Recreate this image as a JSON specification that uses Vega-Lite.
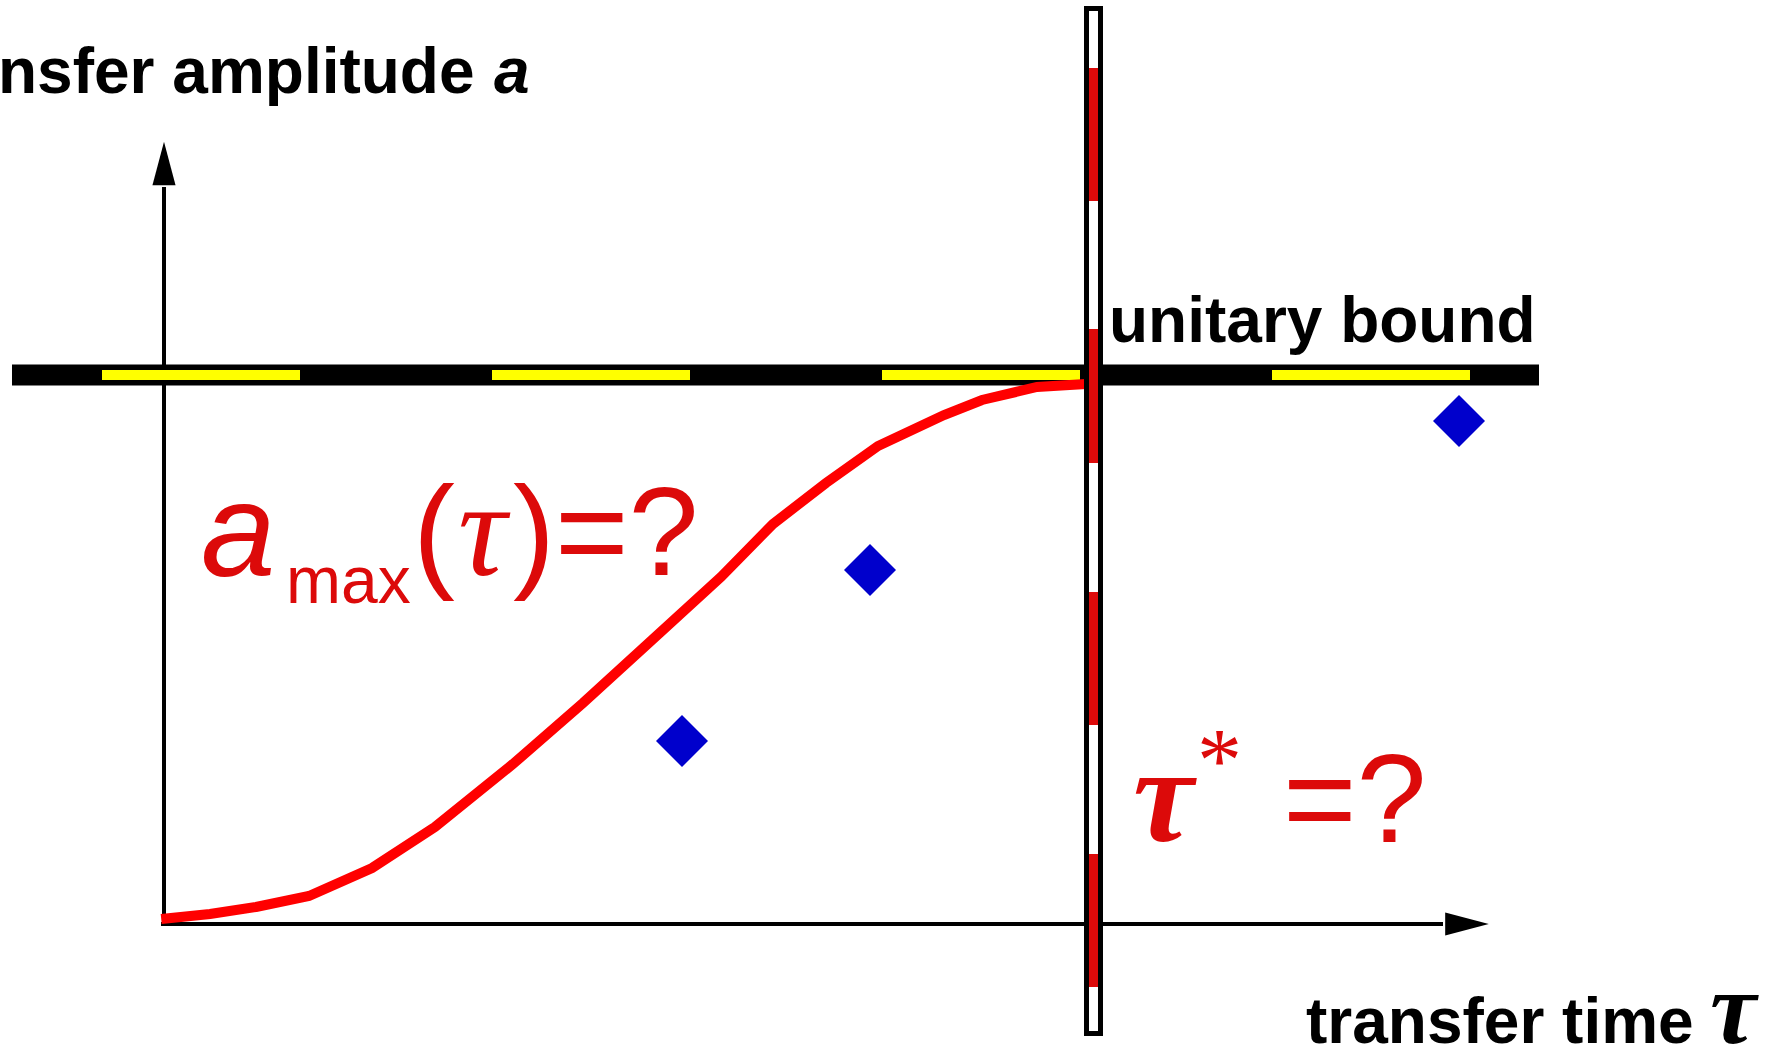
{
  "$schema": "https://vega.github.io/schema/vega-lite/v6.json",
  "width": 1787,
  "height": 1052,
  "autosize": {"type": "none"},
  "padding": 0,
  "background": "white",
  "config": {"view": {"stroke": null}},
  "datasets": {
    "band": [{"t": -0.16353, "t2": 1.47929, "a": 1}],
    "yellow": [
      {"t": -0.066703, "t2": 0.146315, "a": 1},
      {"t": 0.352878, "t2": 0.565896, "a": 1},
      {"t": 0.772458, "t2": 0.985476, "a": 1},
      {"t": 1.192039, "t2": 1.405056, "a": 1}
    ],
    "yaxis": [{"t": 0, "a": 0, "a2": 1.3424}],
    "xaxis": [{"t": -0.00323, "t2": 1.37601, "a": 0}],
    "arrows": [
      {"t": 0, "a": 1.38525, "dir": "up"},
      {"t": 1.40183, "a": 0, "dir": "right"}
    ],
    "curve": [
      {"t": -0.003, "a": 0.00911},
      {"t": 0.04949, "a": 0.01821},
      {"t": 0.09898, "a": 0.03097},
      {"t": 0.156, "a": 0.051},
      {"t": 0.22378, "a": 0.102},
      {"t": 0.29155, "a": 0.17668},
      {"t": 0.37547, "a": 0.29144},
      {"t": 0.45078, "a": 0.40255},
      {"t": 0.52501, "a": 0.5173},
      {"t": 0.59925, "a": 0.63206},
      {"t": 0.65519, "a": 0.7286},
      {"t": 0.71221, "a": 0.80328},
      {"t": 0.76816, "a": 0.87067},
      {"t": 0.83916, "a": 0.92714},
      {"t": 0.88004, "a": 0.95446},
      {"t": 0.93921, "a": 0.97814},
      {"t": 0.99193, "a": 0.98361}
    ],
    "diamonds": [
      {"t": 0.55729, "a": 0.33333},
      {"t": 0.75955, "a": 0.64481},
      {"t": 1.39322, "a": 0.91621}
    ],
    "bar": [{"t": 0.99247, "t2": 1.00753, "a": 1.66758, "a2": -0.19945}],
    "reddash": [
      {"t": 1, "a": 1.5592, "a2": 1.31694},
      {"t": 1, "a": 1.08379, "a2": 0.83971},
      {"t": 1, "a": 0.60474, "a2": 0.36248},
      {"t": 1, "a": 0.1275, "a2": -0.11475}
    ]
  },
  "encoding": {
    "x": {"field": "t", "type": "quantitative", "scale": {"domain": [-0.17644, 1.7461], "nice": false, "zero": false}, "axis": null},
    "y": {"field": "a", "type": "quantitative", "scale": {"domain": [-0.23315, 1.68306], "nice": false, "zero": false}, "axis": null}
  },
  "layer": [
    {"data": {"name": "yaxis"}, "mark": {"type": "rule", "color": "black", "strokeWidth": 4}, "encoding": {"y2": {"field": "a2"}}},
    {"data": {"name": "xaxis"}, "mark": {"type": "rule", "color": "black", "strokeWidth": 4}, "encoding": {"x2": {"field": "t2"}}},
    {"data": {"name": "arrows"}, "mark": {"type": "point", "filled": true, "color": "black", "opacity": 1, "strokeWidth": 0, "size": 1900},
      "encoding": {"shape": {"field": "dir", "type": "nominal", "legend": null, "scale": {"domain": ["up", "right"], "range": ["M0,-1L0.53,1L-0.53,1Z", "M1,0L-1,0.53L-1,-0.53Z"]}}}},
    {"data": {"name": "band"}, "mark": {"type": "rule", "color": "black", "strokeWidth": 21}, "encoding": {"x2": {"field": "t2"}}},
    {"data": {"name": "yellow"}, "mark": {"type": "rule", "color": "#ffff00", "strokeWidth": 10}, "encoding": {"x2": {"field": "t2"}}},
    {"data": {"name": "curve"}, "mark": {"type": "line", "color": "#ff0000", "strokeWidth": 10, "strokeJoin": "miter", "strokeCap": "butt"}, "encoding": {}},
    {"data": {"name": "diamonds"}, "mark": {"type": "point", "shape": "diamond", "filled": true, "color": "#0000cc", "opacity": 1, "size": 2704, "strokeWidth": 0}},
    {"data": {"name": "bar"}, "mark": {"type": "rect", "fill": "white", "stroke": "black", "strokeWidth": 5}, "encoding": {"x2": {"field": "t2"}, "y2": {"field": "a2"}}},
    {"data": {"name": "reddash"}, "mark": {"type": "rule", "color": "#dc0a0a", "strokeWidth": 9}, "encoding": {"y2": {"field": "a2"}}},
    {"data": {"values": [{"t": -0.17859, "a": 1.51366, "label": "nsfer amplitude"}]},
      "mark": {"type": "text", "align": "left", "baseline": "alphabetic", "font": "Liberation Sans", "fontSize": 64, "fontWeight": "bold", "color": "black"},
      "encoding": {"text": {"field": "label"}}},
    {"data": {"values": [{"t": 0.35503, "a": 1.51366, "label": "a"}]},
      "mark": {"type": "text", "align": "left", "baseline": "alphabetic", "font": "Liberation Sans", "fontSize": 64, "fontWeight": "bold", "fontStyle": "italic", "color": "black"},
      "encoding": {"text": {"field": "label"}}},
    {"data": {"values": [{"t": 1.01668, "a": 1.06011, "label": "unitary bound"}]},
      "mark": {"type": "text", "align": "left", "baseline": "alphabetic", "font": "Liberation Sans", "fontSize": 64, "fontWeight": "bold", "color": "black"},
      "encoding": {"text": {"field": "label"}}},
    {"data": {"values": [{"t": 1.22862, "a": -0.21676, "label": "transfer time"}]},
      "mark": {"type": "text", "align": "left", "baseline": "alphabetic", "font": "Liberation Sans", "fontSize": 64, "fontWeight": "bold", "color": "black"},
      "encoding": {"text": {"field": "label"}}},
    {"data": {"values": [{"t": 1.66326, "a": -0.21676, "label": "τ"}]},
      "mark": {"type": "text", "align": "left", "baseline": "alphabetic", "font": "Liberation Serif", "fontSize": 104, "fontWeight": "bold", "fontStyle": "italic", "color": "black"},
      "encoding": {"text": {"field": "label"}}},
    {"data": {"values": [{"t": 0.03981, "a": 0.63388, "label": "a"}]},
      "mark": {"type": "text", "align": "left", "baseline": "alphabetic", "font": "Liberation Sans", "fontSize": 134, "fontStyle": "italic", "color": "#dc0a0a"},
      "encoding": {"text": {"field": "label"}}},
    {"data": {"values": [{"t": 0.13125, "a": 0.5847, "label": "max"}]},
      "mark": {"type": "text", "align": "left", "baseline": "alphabetic", "font": "Liberation Sans", "fontSize": 66, "color": "#dc0a0a"},
      "encoding": {"text": {"field": "label"}}},
    {"data": {"values": [{"t": 0.26789, "a": 0.6357, "label": "("}]},
      "mark": {"type": "text", "align": "left", "baseline": "alphabetic", "font": "Liberation Sans", "fontSize": 126, "color": "#dc0a0a"},
      "encoding": {"text": {"field": "label"}}},
    {"data": {"values": [{"t": 0.3163, "a": 0.6357, "label": "τ"}]},
      "mark": {"type": "text", "align": "left", "baseline": "alphabetic", "font": "Liberation Serif", "fontSize": 135, "fontStyle": "italic", "color": "#dc0a0a"},
      "encoding": {"text": {"field": "label"}}},
    {"data": {"values": [{"t": 0.37547, "a": 0.6357, "label": ")=?"}]},
      "mark": {"type": "text", "align": "left", "baseline": "alphabetic", "font": "Liberation Sans", "fontSize": 126, "color": "#dc0a0a"},
      "encoding": {"text": {"field": "label"}}},
    {"data": {"values": [{"t": 1.0425, "a": 0.15118, "label": "τ"}]},
      "mark": {"type": "text", "align": "left", "baseline": "alphabetic", "font": "Liberation Serif", "fontSize": 136, "fontWeight": "bold", "fontStyle": "italic", "color": "#dc0a0a"},
      "encoding": {"text": {"field": "label"}}},
    {"data": {"values": [{"t": 1.11135, "a": 0.24226, "label": "*"}]},
      "mark": {"type": "text", "align": "left", "baseline": "alphabetic", "font": "Liberation Serif", "fontSize": 90, "color": "#dc0a0a"},
      "encoding": {"text": {"field": "label"}}},
    {"data": {"values": [{"t": 1.20387, "a": 0.14936, "label": "=?"}]},
      "mark": {"type": "text", "align": "left", "baseline": "alphabetic", "font": "Liberation Sans", "fontSize": 126, "color": "#dc0a0a"},
      "encoding": {"text": {"field": "label"}}}
  ]
}
